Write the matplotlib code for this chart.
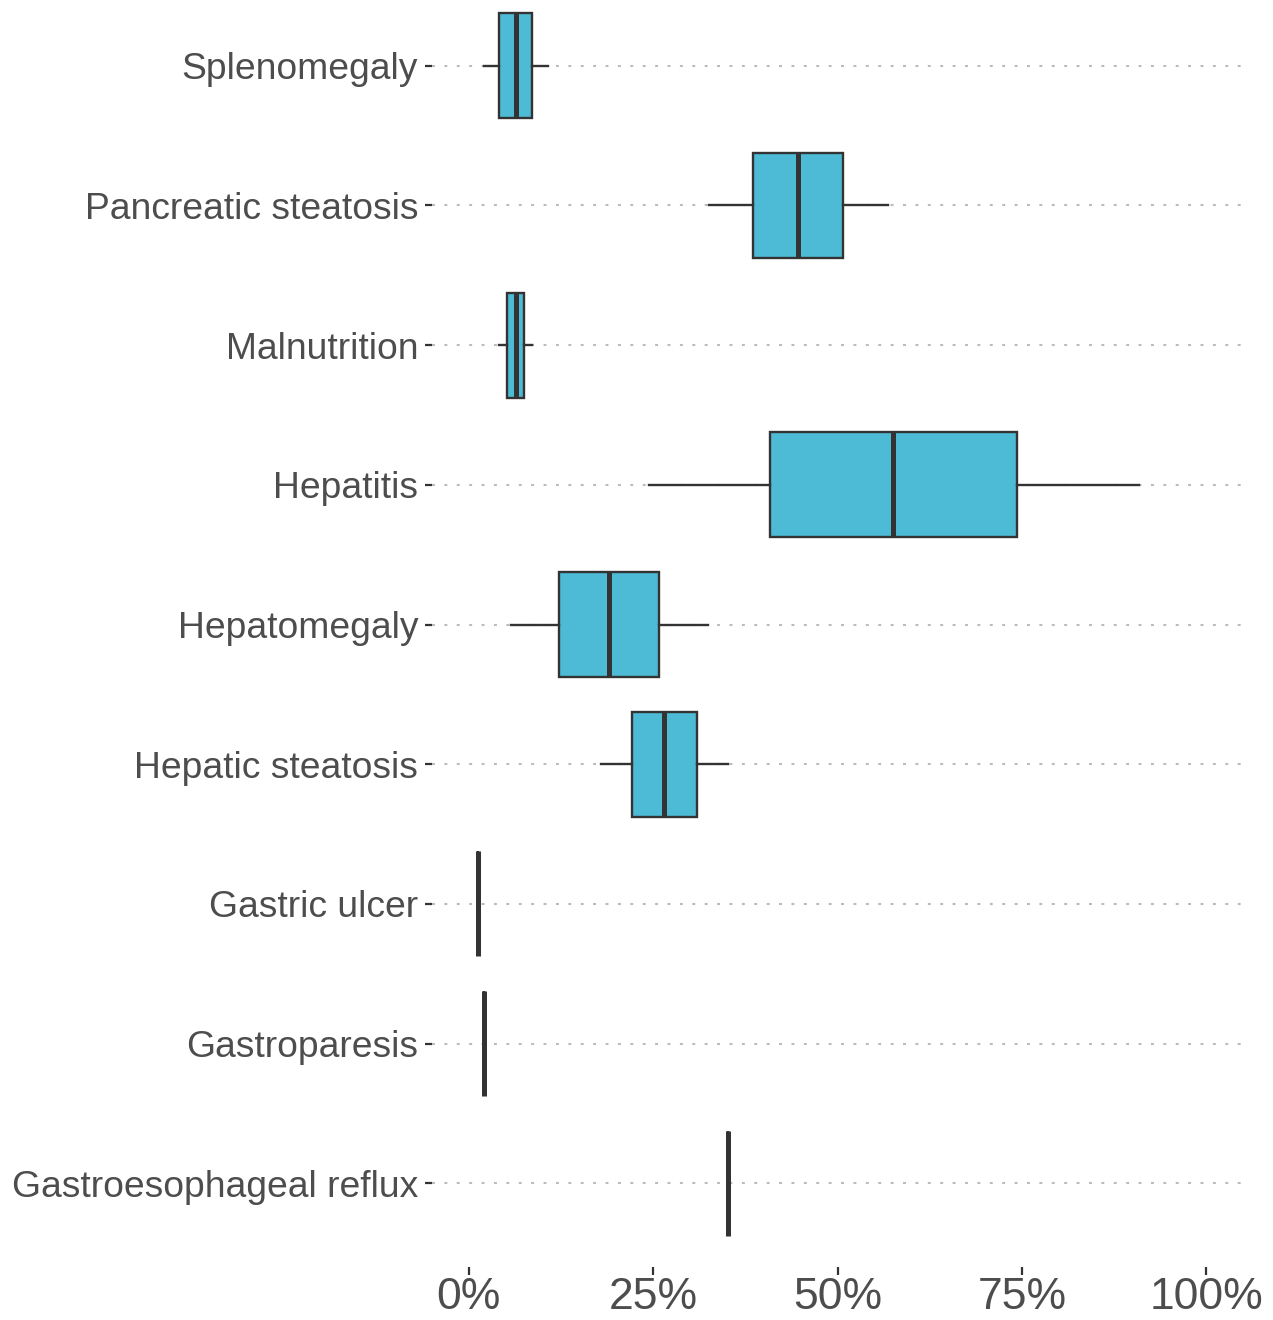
import matplotlib
matplotlib.use("Agg")
import matplotlib.pyplot as plt

# categories from top to bottom, values as fractions
categories = ["Splenomegaly", "Pancreatic steatosis", "Malnutrition", "Hepatitis",
              "Hepatomegaly", "Hepatic steatosis", "Gastric ulcer", "Gastroparesis",
              "Gastroesophageal reflux"]
whisker_lo = [0.020, 0.326, 0.041, 0.245, 0.057, 0.179, 0.012, 0.021, 0.351]
q1 = [0.041, 0.386, 0.052, 0.409, 0.122, 0.221, 0.012, 0.021, 0.351]
median = [0.064, 0.447, 0.064, 0.575, 0.190, 0.265, 0.012, 0.021, 0.351]
q3 = [0.086, 0.508, 0.075, 0.743, 0.258, 0.310, 0.012, 0.021, 0.351]
whisker_hi = [0.107, 0.568, 0.086, 0.909, 0.325, 0.352, 0.012, 0.021, 0.351]
xticks = [0, 0.25, 0.5, 0.75, 1.0]
xtick_labels = ["0%", "25%", "50%", "75%", "100%"]

fill = "#4DBBD5"
dark = "#333333"
textcol = "#4D4D4D"

W, H = 1273, 1320
fig = plt.figure(figsize=(W / 100, H / 100), dpi=100)
left, right, top, bottom = 432, 1243, -18, 1267
ax = fig.add_axes([left / W, (H - bottom) / H, (right - left) / W, (bottom - top) / H])

stats = []
for i, name in enumerate(categories):
    stats.append(dict(label=name, whislo=whisker_lo[i], q1=q1[i], med=median[i],
                      q3=q3[i], whishi=whisker_hi[i], fliers=[]))

pos = list(range(len(categories)))
for p in pos:
    ax.plot([-0.05, 1.05], [p, p], color="#BBBBBB", lw=1.5,
            dashes=(1.4, 4.55), zorder=0)

ax.bxp(stats, positions=pos, widths=0.75, orientation="horizontal",
       showfliers=False, showcaps=False, patch_artist=True,
       boxprops=dict(facecolor=fill, edgecolor=dark, linewidth=1.7),
       medianprops=dict(color=dark, linewidth=3.6, solid_capstyle="butt"),
       whiskerprops=dict(color=dark, linewidth=1.7))

ax.set_xlim(-0.05, 1.05)
ax.set_ylim(len(categories) - 0.4, -0.6)
ax.set_yticks(pos)
ax.set_yticklabels(categories, fontsize=26.8, color=textcol,
                   family=["Liberation Sans", "DejaVu Sans"])
ax.set_xticks(xticks)
ax.set_xticklabels(xtick_labels, fontsize=32, color=textcol,
                   family=["Liberation Sans", "DejaVu Sans"])
ax.tick_params(axis="y", length=5, width=1.6, color=dark, pad=5)
ax.tick_params(axis="x", length=5.5, width=1.6, color=dark, pad=1.5)
for s in ax.spines.values():
    s.set_visible(False)
ax.grid(False)

fig.savefig("out.png", dpi=100)
